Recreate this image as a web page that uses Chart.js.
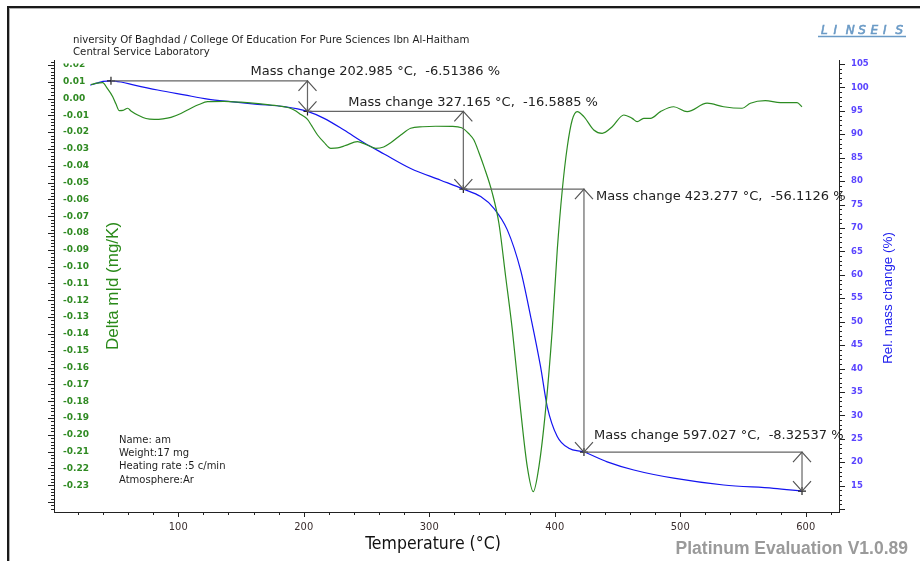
<!DOCTYPE html>
<html>
<head>
<meta charset="utf-8">
<title>TGA / DTA</title>
<script src="https://cdn.jsdelivr.net/npm/chart.js@4.4.1/dist/chart.umd.min.js"></script>
<style>
  html, body { margin: 0; padding: 0; background: #fff; }
  #wrap { position: relative; width: 920px; height: 561px; }
</style>
</head>
<body>
<div id="wrap"><canvas id="tga"></canvas></div>
<script>
// DTA signal, Delta m|d (mg/K), left axis
const dtaTemp = [30.5, 35.3, 39.8, 43.2, 47.8, 50.4, 53.0, 56.0, 59.7, 62.3, 67.7, 74.3, 80.9, 87.8, 94.2,
  102.1, 110.1, 116.5, 123.4, 136.4, 149.9, 165.8, 179.1, 188.1, 192.3, 197.7, 203.0, 206.4, 211.0, 216.0,
  221.6, 227.1, 233.5, 242.8, 249.4, 257.4, 263.7, 269.3, 277.3, 285.2, 294.8, 305.1, 317.9, 325.8, 331.4,
  335.6, 339.4, 343.6, 350.3, 355.5, 360.9, 366.2, 372.8, 378.1, 382.9, 387.4, 392.7, 398.0, 402.0, 406.0,
  410.0, 413.9, 417.9, 423.2, 431.1, 437.8, 445.8, 455.0, 461.7, 465.7, 470.9, 476.3, 484.2, 494.8, 505.5,
  521.4, 534.6, 549.3, 555.9, 567.8, 579.8, 593.1, 597.0];
const dtaValue = [0.0083, 0.0091, 0.0094, 0.0063, 0.0011, -0.0033, -0.0072, -0.0071, -0.0058, -0.0074, -0.0098,
  -0.0119, -0.0124, -0.0121, -0.0112, -0.0089, -0.0058, -0.0036, -0.0019, -0.0017, -0.0022, -0.0032, -0.0043,
  -0.0055, -0.0068, -0.0095, -0.0124, -0.0163, -0.0217, -0.0259, -0.0296, -0.0294, -0.0279, -0.0257, -0.0273,
  -0.0296, -0.0288, -0.0263, -0.0217, -0.0177, -0.0168, -0.0165, -0.0166, -0.0174, -0.0208, -0.0247, -0.0318,
  -0.0405, -0.0564, -0.0742, -0.1060, -0.1376, -0.1852, -0.2189, -0.2338, -0.2189, -0.1852, -0.1376, -0.0901,
  -0.0544, -0.0287, -0.0128, -0.0078, -0.0108, -0.0187, -0.0207, -0.0168, -0.0098, -0.0118, -0.0138, -0.0118,
  -0.0118, -0.0078, -0.0049, -0.0078, -0.0028, -0.0049, -0.0058, -0.0028, -0.0013, -0.0025, -0.0025, -0.0049];

// TG signal, relative mass change (%), right axis
const tgTemp = [29.9, 35.3, 40.0, 46.4, 54.4, 65.0, 83.6, 104.8, 123.4, 141.9, 163.2, 184.4, 202.985, 216.2,
  232.1, 248.0, 264.0, 285.2, 309.1, 327.165, 341.0, 351.5, 362.2, 372.8, 380.8, 388.7, 394.0, 402.0, 411.2,
  423.277, 441.8, 463.0, 494.8, 534.6, 574.4, 597.027];
const tgMass = [100.5, 100.9, 101.3, 101.4, 101.15, 100.5, 99.45, 98.4, 97.5, 96.95, 96.4, 95.9, 94.886, 93.4,
  90.9, 88.2, 85.8, 82.7, 80.2, 78.298, 76.7, 74.2, 69.6, 61.0, 51.1, 40.4, 31.9, 25.5, 23.0,
  22.185, 20.1, 18.35, 16.6, 15.15, 14.45, 13.86];

// mass change steps from the evaluation
const stepStartTemp = 46.4;
const stepStartMass = 101.4;
const stepTemps = [202.985, 327.165, 423.277, 597.027];
const stepChanges = [-6.51386, -16.5885, -56.1126, -8.32537];

const tempTicks = [100, 200, 300, 400, 500, 600];
const dtaTicks = [0.02, 0.01, 0.00, -0.01, -0.02, -0.03, -0.04, -0.05, -0.06, -0.07, -0.08, -0.09, -0.10,
  -0.11, -0.12, -0.13, -0.14, -0.15, -0.16, -0.17, -0.18, -0.19, -0.20, -0.21, -0.22, -0.23];
const massTicks = [105, 100, 95, 90, 85, 80, 75, 70, 65, 60, 55, 50, 45, 40, 35, 30, 25, 20, 15];

const sampleInfo = ['Name: am', 'Weight:17 mg', 'Heating rate :5 c/min', 'Atmosphere:Ar'];

// mass level after each step
const stepLevels = [stepStartMass];
stepChanges.forEach((d, i) => stepLevels.push(stepLevels[i] + d));

// staircase: horizontal to the step temperature, then down to the new level
const stepPath = [{ x: stepStartTemp, y: stepLevels[0] }];
stepTemps.forEach((t, i) => {
  stepPath.push({ x: t, y: stepLevels[i] });
  stepPath.push({ x: t, y: stepLevels[i + 1] });
});

// where each step text sits relative to its anchor (step index, level index, dx, dy)
const stepLabelPlace = [
  { step: 0, level: 0, dx: -57, dy: -9 },
  { step: 1, level: 1, dx: -115, dy: -9 },
  { step: 2, level: 2, dx: 12, dy: 8 },
  { step: 2, level: 3, dx: 10, dy: -16 }
];

const NARROW = '"Liberation Sans Narrow", "DejaVu Sans Condensed", "Liberation Sans", sans-serif';
const VERD = '"DejaVu Sans", Verdana, sans-serif';

const decor = {
  id: 'decor',
  afterDraw(chart) {
    const { ctx, chartArea: a } = chart;
    const sx = chart.scales.x, sy = chart.scales.y, sy1 = chart.scales.y1;
    ctx.save();

    // outer frame
    ctx.fillStyle = '#1a1a1a';
    ctx.fillRect(7, 6, 913, 2);
    ctx.fillRect(7, 6, 2, 555);
    ctx.fillStyle = '#b0b0b0';
    ctx.fillRect(9, 8, 911, 1);
    ctx.fillRect(9, 8, 1, 553);

    // tick marks, minor and major
    ctx.strokeStyle = '#222';
    ctx.lineWidth = 1;
    ctx.beginPath();
    for (let t = 20; t <= 620; t += 20) {
      const px = Math.round(sx.getPixelForValue(t)) + 0.5;
      ctx.moveTo(px, a.bottom);
      ctx.lineTo(px, a.bottom + (t % 100 === 0 ? 5 : 3));
    }
    for (let k = -122; k <= 11; k++) {
      const py = Math.round(sy.getPixelForValue(k * 0.002)) + 0.5;
      ctx.moveTo(a.left, py);
      ctx.lineTo(a.left - (k % 5 === 0 ? 6 : 3), py);
    }
    for (let m = 10; m <= 105; m++) {
      const py = Math.round(sy1.getPixelForValue(m)) + 0.5;
      ctx.moveTo(a.right, py);
      ctx.lineTo(a.right + (m % 5 === 0 ? 6 : 3), py);
    }
    ctx.stroke();

    // left labels sit inside the plot; the top one is cut by the frame
    ctx.save();
    ctx.beginPath();
    ctx.rect(a.left, a.top + 3.5, a.right - a.left, a.bottom - a.top);
    ctx.clip();
    ctx.font = 'bold 9px ' + VERD;
    ctx.fillStyle = '#2f8a22';
    ctx.textAlign = 'left';
    ctx.textBaseline = 'middle';
    dtaTicks.forEach(v => ctx.fillText(v.toFixed(2), a.left + 9, sy.getPixelForValue(v)));
    ctx.restore();

    // arrow heads on the step verticals
    ctx.strokeStyle = '#555';
    ctx.lineWidth = 1.2;
    ctx.beginPath();
    stepTemps.forEach((t, i) => {
      const px = sx.getPixelForValue(t);
      const top = sy1.getPixelForValue(stepLevels[i]);
      const bot = sy1.getPixelForValue(stepLevels[i + 1]);
      ctx.moveTo(px - 9, top + 10); ctx.lineTo(px, top); ctx.lineTo(px + 9, top + 10);
      ctx.moveTo(px - 9, bot - 10); ctx.lineTo(px, bot); ctx.lineTo(px + 9, bot - 10);
    });
    ctx.stroke();

    // step texts
    ctx.font = '13px ' + VERD;
    ctx.fillStyle = '#222';
    ctx.textAlign = 'left';
    ctx.textBaseline = 'middle';
    stepLabelPlace.forEach((p, i) => {
      const px = sx.getPixelForValue(stepTemps[p.step]);
      const py = sy1.getPixelForValue(stepLevels[p.level]);
      ctx.fillText('Mass change ' + stepTemps[i].toFixed(3) + ' \u00B0C,  ' + stepChanges[i] + ' %', px + p.dx, py + p.dy);
    });

    // header
    ctx.font = '10.2px ' + VERD;
    ctx.fillStyle = '#1e1e1e';
    ctx.textBaseline = 'middle';
    ctx.fillText('niversity Of Baghdad / College Of Education For Pure Sciences Ibn Al-Haitham', 73, 40);
    ctx.fillText('Central Service Laboratory', 73, 52);

    // sample info block
    ctx.font = '10px ' + VERD;
    sampleInfo.forEach((s, i) => ctx.fillText(s, 119, 440 + i * 13.4));

    // logo
    ctx.fillStyle = '#6a9ac6';
    ctx.strokeStyle = '#6a9ac6';
    ctx.font = 'italic 12px ' + VERD;
    ctx.lineWidth = 0.6;
    'LINSEIS'.split('').forEach((ch, i) => {
      ctx.fillText(ch, 821 + i * 12.4, 31);
      ctx.strokeText(ch, 821 + i * 12.4, 31);
    });
    ctx.lineWidth = 1.5;
    ctx.beginPath();
    ctx.moveTo(818, 36.5); ctx.lineTo(906, 36.5);
    ctx.stroke();

    // axis titles
    ctx.textAlign = 'center';
    ctx.fillStyle = '#111';
    ctx.font = '17.5px ' + NARROW;
    ctx.fillText('Temperature (\u00B0C)', 433, 544);

    ctx.save();
    ctx.translate(113, 286);
    ctx.rotate(-Math.PI / 2);
    ctx.fillStyle = '#2a8a1a';
    ctx.font = '17px "Liberation Sans", Arial, sans-serif';
    ctx.fillText('Delta m|d (mg/K)', 0, 0);
    ctx.restore();

    ctx.save();
    ctx.translate(888, 298);
    ctx.rotate(-Math.PI / 2);
    ctx.fillStyle = '#2020ee';
    ctx.font = '13.4px "Liberation Sans", Arial, sans-serif';
    ctx.fillText('Rel. mass change (%)', 0, 0);
    ctx.restore();

    ctx.textAlign = 'right';
    ctx.fillStyle = '#9a9a9a';
    ctx.font = 'bold 17.5px "Liberation Sans", Arial, sans-serif';
    ctx.fillText('Platinum Evaluation V1.0.89', 908, 549);

    ctx.restore();
  }
};

const zip = (xs, ys) => xs.map((v, i) => ({ x: v, y: ys[i] }));

new Chart(document.getElementById('tga'), {
  type: 'line',
  data: {
    datasets: [
      {
        label: 'Mass change',
        data: stepPath,
        yAxisID: 'y1',
        borderColor: '#666',
        borderWidth: 1.2,
        pointRadius: 0,
        tension: 0
      },
      {
        label: 'Step points',
        data: stepPath.filter((p, i) => i === 0 || i % 2 === 0 || i === stepPath.length - 1),
        yAxisID: 'y1',
        showLine: false,
        pointStyle: 'cross',
        pointRadius: 4,
        pointBorderColor: '#222',
        pointBorderWidth: 1.2
      },
      {
        label: 'Delta m|d (mg/K)',
        data: zip(dtaTemp, dtaValue),
        yAxisID: 'y',
        borderColor: '#2c8c22',
        borderWidth: 1.2,
        pointRadius: 0,
        cubicInterpolationMode: 'monotone'
      },
      {
        label: 'Rel. mass change (%)',
        data: zip(tgTemp, tgMass),
        yAxisID: 'y1',
        borderColor: '#1414f0',
        borderWidth: 1.2,
        pointRadius: 0,
        cubicInterpolationMode: 'monotone'
      }
    ]
  },
  options: {
    responsive: true,
    maintainAspectRatio: false,
    animation: false,
    devicePixelRatio: 1,
    layout: { padding: { top: 60, left: 0, right: 0, bottom: 0 } },
    plugins: { legend: { display: false }, tooltip: { enabled: false } },
    scales: {
      x: {
        type: 'linear',
        min: 1,
        max: 626.5,
        afterFit: s => { s.height = 49; },
        afterBuildTicks: s => { s.ticks = tempTicks.map(v => ({ value: v })); },
        grid: { display: false, drawTicks: false },
        border: { display: true, color: '#222', width: 1 },
        ticks: { color: '#3a2e2e', font: { family: NARROW, size: 11 }, padding: 9, maxRotation: 0, autoSkip: false }
      },
      y: {
        position: 'left',
        min: -0.2459,
        max: 0.0229,
        afterFit: s => { s.width = 54; },
        grid: { display: false, drawTicks: false },
        border: { display: true, color: '#222', width: 1 },
        ticks: { display: false }
      },
      y1: {
        position: 'right',
        min: 9.39,
        max: 105.85,
        afterFit: s => { s.width = 81; },
        afterBuildTicks: s => { s.ticks = massTicks.map(v => ({ value: v })); },
        grid: { display: false, drawTicks: false },
        border: { display: true, color: '#222', width: 1 },
        ticks: { color: '#5a44ff', font: { family: VERD, size: 8.5, weight: 'bold' }, padding: 12, autoSkip: false }
      }
    }
  },
  plugins: [decor]
});
</script>
</body>
</html>
